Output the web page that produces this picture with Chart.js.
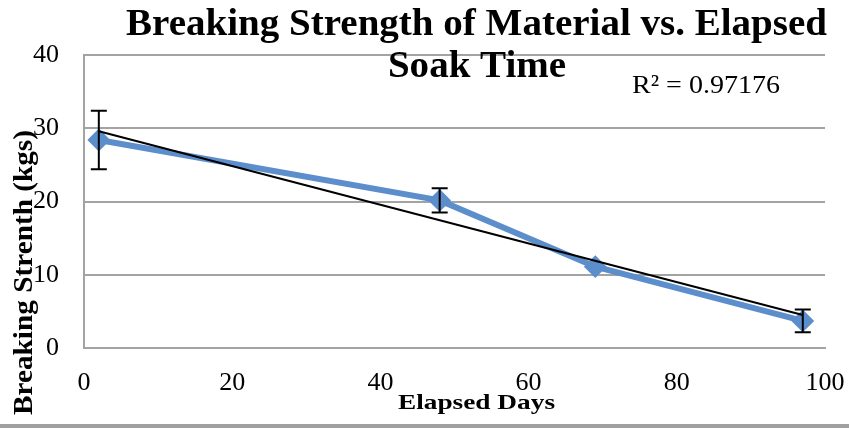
<!DOCTYPE html>
<html>
<head>
<meta charset="utf-8">
<script src="https://cdn.jsdelivr.net/npm/chart.js@4.4.1/dist/chart.umd.min.js"></script>
<style>
  html, body { margin: 0; padding: 0; background: #fff; }
  #wrap { width: 849px; height: 428px; position: relative; }
</style>
</head>
<body>
<div id="wrap"><canvas id="soakChart"></canvas></div>
<script>
// Breaking strength vs elapsed soak time
const elapsedDays = [2, 48, 69, 97];
const strengthKgs = [28.4, 20.15, 11.1, 3.7];
const errorKgs = [4.0, 1.65, 0, 1.55];
const trendDays = [2, 97];
const trendKgs = [29.6, 4.5];
const xTicks = [0, 20, 40, 60, 80, 100];
const yTicks = [0, 10, 20, 30, 40];
const rSquaredLabel = 'R\u00B2 = 0.97176';

const GRID = '#a3a3a3';
const BLUE = '#5b8ecb';

// draw text stretched/squeezed to a given width
function fitText(ctx, text, font, x, y, width, rotate) {
  ctx.save();
  ctx.font = font;
  const w = ctx.measureText(text).width;
  ctx.translate(x, y);
  if (rotate) ctx.rotate(-Math.PI / 2);
  ctx.scale(width / w, 1);
  ctx.textAlign = 'center';
  ctx.textBaseline = 'alphabetic';
  ctx.fillStyle = '#000';
  ctx.fillText(text, 0, 0);
  ctx.restore();
  return width / w;
}

const errorBars = {
  id: 'errorBars',
  afterDatasetsDraw(chart) {
    const { ctx, scales: { x, y } } = chart;
    ctx.save();
    ctx.strokeStyle = '#000';
    ctx.lineWidth = 2;
    elapsedDays.forEach((d, i) => {
      if (!errorKgs[i]) return;
      const px = x.getPixelForValue(d);
      const top = y.getPixelForValue(strengthKgs[i] + errorKgs[i]);
      const bot = y.getPixelForValue(strengthKgs[i] - errorKgs[i]);
      ctx.beginPath();
      ctx.moveTo(px, top); ctx.lineTo(px, bot);
      ctx.moveTo(px - 8, top); ctx.lineTo(px + 8, top);
      ctx.moveTo(px - 8, bot); ctx.lineTo(px + 8, bot);
      ctx.stroke();
    });
    ctx.restore();
  }
};

const labels = {
  id: 'labels',
  afterDraw(chart) {
    const ctx = chart.ctx;
    const font = 'bold 37px "Liberation Serif"';
    ctx.save();
    ctx.font = font;
    const sx = fitText(ctx, 'Breaking Strength of Material vs. Elapsed', font, 476.5, 35, 701);
    const w2 = ctx.measureText('Soak Time').width * sx;
    fitText(ctx, 'Soak Time', font, 477, 77, w2);
    fitText(ctx, rSquaredLabel, '26px "Liberation Serif"', 706, 93, 148);
    fitText(ctx, 'Elapsed Days', 'bold 21px "Liberation Serif"', 476.5, 409, 157);
    fitText(ctx, 'Breaking Strenth (kgs)', 'bold 27px "Liberation Serif"', 32, 272.5, 285, true);
    // outer frame edge at the bottom
    ctx.fillStyle = '#a0a0a0';
    ctx.fillRect(0, 424, chart.width, 4);
    ctx.restore();
  }
};

const ctx = document.getElementById('soakChart').getContext('2d');
const soakChart = new Chart(ctx, {
  type: 'scatter',
  data: {
    datasets: [{
      label: 'Linear trend',
      data: trendDays.map((d, i) => ({ x: d, y: trendKgs[i] })),
      showLine: true,
      borderColor: '#000',
      borderWidth: 2,
      pointRadius: 0,
      order: 0
    }, {
      label: 'Breaking strength',
      data: elapsedDays.map((d, i) => ({ x: d, y: strengthKgs[i] })),
      showLine: true,
      borderColor: BLUE,
      backgroundColor: BLUE,
      borderWidth: 6,
      pointStyle: 'rectRot',
      pointRadius: 10,
      pointBorderWidth: 2,
      pointBorderColor: BLUE,
      pointBackgroundColor: BLUE,
      order: 1
    }]
  },
  options: {
    responsive: true,
    maintainAspectRatio: false,
    animation: false,
    layout: { padding: { top: 55, right: 24, left: 0, bottom: 0 } },
    plugins: {
      legend: { display: false },
      tooltip: { enabled: false }
    },
    scales: {
      x: {
        type: 'linear',
        min: 0,
        max: 100,
        afterBuildTicks: s => { s.ticks = xTicks.map(v => ({ value: v })); },
        afterFit: s => { s.height = 80; s.paddingLeft = 0; s.paddingRight = 0; },
        grid: { display: false, drawTicks: false },
        border: { color: GRID, width: 2 },
        ticks: { color: '#000', padding: 20, maxRotation: 0, font: { family: 'Liberation Serif', size: 26 } }
      },
      y: {
        min: 0,
        max: 40,
        afterBuildTicks: s => { s.ticks = yTicks.map(v => ({ value: v })); },
        afterFit: s => { s.width = 84; },
        grid: { color: GRID, lineWidth: 2, drawTicks: false },
        border: { color: GRID, width: 2 },
        ticks: { color: '#000', padding: 25, font: { family: 'Liberation Serif', size: 26 } }
      }
    }
  },
  plugins: [errorBars, labels]
});
</script>
</body>
</html>
